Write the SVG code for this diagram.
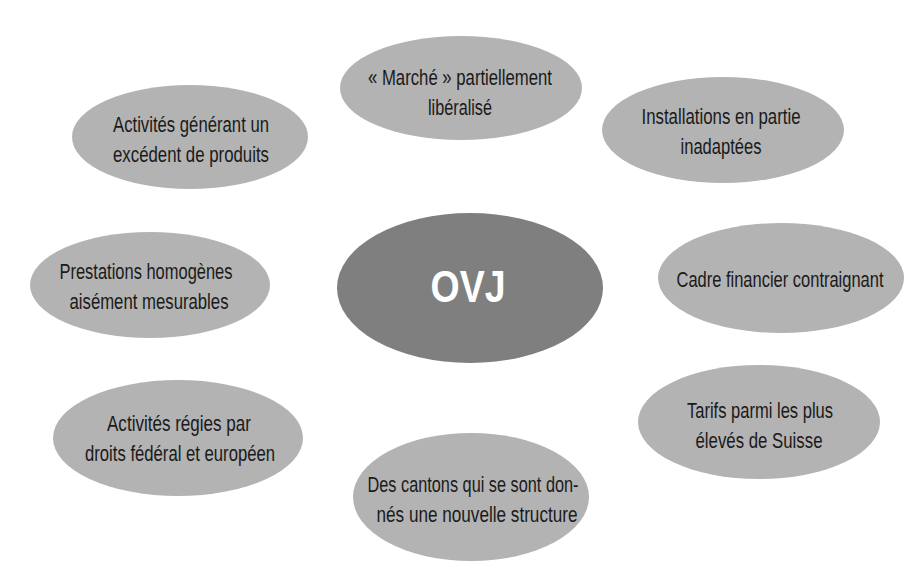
<svg xmlns="http://www.w3.org/2000/svg" width="924" height="583" viewBox="0 0 924 583">
<style>
.n{fill:#b3b3b3}
.c{fill:#7f7f7f}
.t{font-family:"Liberation Sans",Arial,sans-serif;font-size:22px;fill:#1a1a1a;text-anchor:middle}
.o{font-family:"Liberation Sans",Arial,sans-serif;font-size:44px;font-weight:bold;fill:#ffffff;text-anchor:middle}
</style>
<rect width="924" height="583" fill="#ffffff"/>
<g id="connectors"></g>
<g id="ovj">
<ellipse class="c" cx="470" cy="288" rx="133" ry="75"/>
<text class="o" x="468" y="302" textLength="75" lengthAdjust="spacingAndGlyphs">OVJ</text>
</g>
<g id="marche">
<ellipse class="n" cx="461" cy="88" rx="121" ry="52"/>
<text class="t" x="460" y="85" textLength="184" lengthAdjust="spacingAndGlyphs">« Marché » partiellement</text>
<text class="t" x="460" y="115" textLength="64" lengthAdjust="spacingAndGlyphs">libéralisé</text>
</g>
<g id="excedent">
<ellipse class="n" cx="190" cy="137" rx="118" ry="52"/>
<text class="t" x="191" y="132" textLength="156" lengthAdjust="spacingAndGlyphs">Activités générant un</text>
<text class="t" x="191" y="162" textLength="156" lengthAdjust="spacingAndGlyphs">excédent de produits</text>
</g>
<g id="installations">
<ellipse class="n" cx="723" cy="130" rx="121" ry="53"/>
<text class="t" x="721" y="124" textLength="159" lengthAdjust="spacingAndGlyphs">Installations en partie</text>
<text class="t" x="721" y="154" textLength="81" lengthAdjust="spacingAndGlyphs">inadaptées</text>
</g>
<g id="prestations">
<ellipse class="n" cx="150" cy="285" rx="120" ry="53"/>
<text class="t" x="146" y="279" textLength="173" lengthAdjust="spacingAndGlyphs">Prestations homogènes</text>
<text class="t" x="149" y="309" textLength="159" lengthAdjust="spacingAndGlyphs">aisément mesurables</text>
</g>
<g id="cadre">
<ellipse class="n" cx="781" cy="278" rx="123" ry="55"/>
<text class="t" x="780" y="287" textLength="207" lengthAdjust="spacingAndGlyphs">Cadre financier contraignant</text>
</g>
<g id="droits">
<ellipse class="n" cx="178" cy="438" rx="125" ry="58"/>
<text class="t" x="179" y="431" textLength="144" lengthAdjust="spacingAndGlyphs">Activités régies par</text>
<text class="t" x="180" y="461" textLength="190" lengthAdjust="spacingAndGlyphs">droits fédéral et européen</text>
</g>
<g id="tarifs">
<ellipse class="n" cx="759" cy="422" rx="121" ry="57"/>
<text class="t" x="760" y="418" textLength="146" lengthAdjust="spacingAndGlyphs">Tarifs parmi les plus</text>
<text class="t" x="759" y="448" textLength="127" lengthAdjust="spacingAndGlyphs">élevés de Suisse</text>
</g>
<g id="cantons">
<ellipse class="n" cx="471" cy="497" rx="118" ry="64"/>
<text class="t" x="473" y="492" textLength="211" lengthAdjust="spacingAndGlyphs">Des cantons qui se sont don-</text>
<text class="t" x="477" y="522" textLength="201" lengthAdjust="spacingAndGlyphs">nés une nouvelle structure</text>
</g>
</svg>
